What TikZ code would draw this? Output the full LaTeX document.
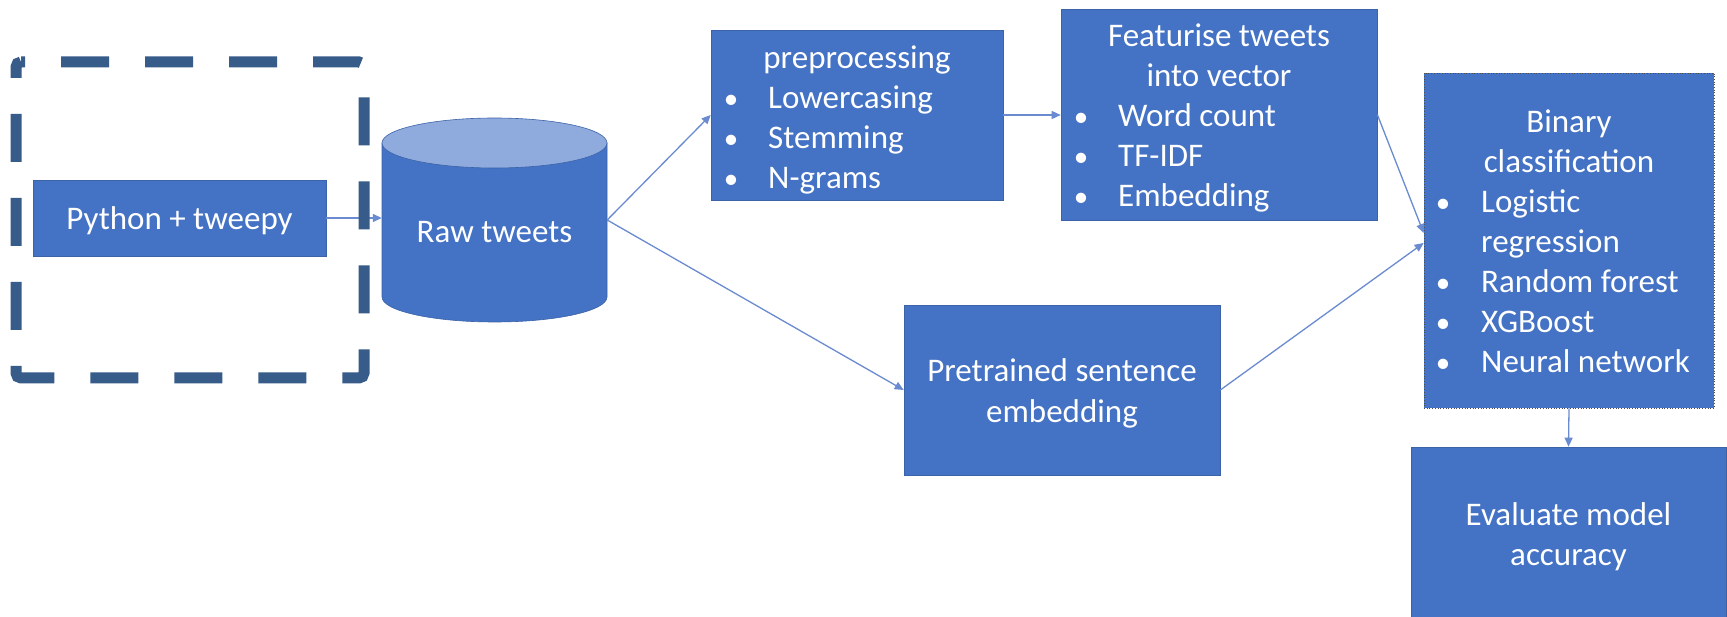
\documentclass[tikz,border=0pt]{standalone}
\usepackage{fontspec}
\usepackage{graphicx}
\setmainfont{Carlito}
\usetikzlibrary{arrows.meta}
\definecolor{boxblue}{HTML}{4472C4}
\definecolor{boxedge}{HTML}{3C63A8}
\definecolor{toplight}{HTML}{8FAADC}
\definecolor{dashblue}{HTML}{375C8A}
\definecolor{arrowblue}{HTML}{6A8BD0}
\newcommand{\bt}{\makebox[0pt]{\scalebox{0.88}{\textbullet}}}
\begin{document}
\begin{tikzpicture}[x=1pt,y=-1pt,
  box/.style={fill=boxblue, draw=boxedge, line width=0.6pt, inner sep=0pt},
  lbl/.style={text=white, font=\fontsize{33}{40}\selectfont, inner sep=0pt, align=center},
  arr/.style={draw=arrowblue, line width=1.3pt, -{Triangle[length=9pt,width=8pt]}},
  dashframe/.style={draw=dashblue, line width=11pt, dash pattern=on 48pt off 36pt, dash phase=44pt, rounded corners=5pt}]
\useasboundingbox (0,0) rectangle (1727,617);
\fill[white] (0,0) rectangle (1727,617);

% source box
\node[box, minimum width=293pt, minimum height=76pt] (py) at (179.5,218) {};
\node[lbl] (pylbl) at (179.5,222) {\strut Python + tweepy};

% raw tweets cylinder
\node[minimum width=225pt, minimum height=204pt, inner sep=0pt] (raw) at (494.5,220) {};
\filldraw[fill=boxblue, draw=boxedge, line width=0.6pt] (382,143) -- (382,297) arc[start angle=180, end angle=0, x radius=112.5, y radius=25] -- (607,143) -- cycle;
\filldraw[fill=toplight, draw=boxedge, line width=0.6pt] (494.5,143) ellipse [x radius=112.5, y radius=25];
\node[lbl] (rawlbl) at (494.5,232) {Raw tweets};

% preprocessing
\node[box, minimum width=292pt, minimum height=170pt] (pre) at (857,115) {};
\node[lbl, anchor=north] (pret) at (857,40) {\strut preprocessing};
\node[lbl, anchor=north west] (prel) at (731,80) {\begin{tabular}{@{}p{37pt}@{}l@{}}\bt & Lowercasing\\ \bt & Stemming\\ \bt & N-grams\end{tabular}};

% featurise
\node[box, minimum width=316pt, minimum height=211pt] (feat) at (1219,114.5) {};
\node[lbl, anchor=north] (featt) at (1219,18.5) {\strut Featurise tweets\\\strut into vector};
\node[lbl, anchor=north west] (featl) at (1081,98.5) {\begin{tabular}{@{}p{37pt}@{}l@{}}\bt & Word count\\ \bt & TF-IDF\\ \bt & Embedding\end{tabular}};

% pretrained
\node[box, minimum width=316pt, minimum height=170pt] (emb) at (1062,390) {};
\node[lbl] (emblbl) at (1062,394) {\strut Pretrained sentence\\\strut embedding};

% binary classification
\node[fill=boxblue, draw=gray!60!black, dotted, line width=0.7pt, inner sep=0pt, minimum width=290pt, minimum height=335pt] (bin) at (1569,240.5) {};
\node[lbl, anchor=north] (bint) at (1569,104.5) {\strut Binary\\\strut classification};
\node[lbl, anchor=north west] (binl) at (1443,184.5) {\begin{tabular}{@{}p{38pt}@{}l@{}}\bt & Logistic\\ & regression\\ \bt & Random forest\\ \bt & XGBoost\\ \bt & Neural network\end{tabular}};

% evaluate
\node[box, minimum width=315pt, minimum height=174pt] (eval) at (1568.5,534) {};
\node[lbl] (evallbl) at (1568.5,537) {\strut Evaluate model\\\strut accuracy};

% connectors
\draw[arr] (py.east) -- (py.east -| raw.west);
\draw[arr] (raw.east) -- (pre.west);
\draw[arr] (raw.east) -- (emb.west);
\draw[arr] (pre.east) -- (pre.east -| feat.west);
\draw[arr] (feat.east) -- ([yshift=7.5pt]bin.west);
\draw[arr] (emb.east) -- ([yshift=-2.5pt]bin.west);
\draw[arr] (bin.south) -- (eval.north);

% dashed frame
\draw[dashframe] (16,62) -- (364,62) -- (364,378) -- (16,378) -- cycle;
\end{tikzpicture}
\end{document}
